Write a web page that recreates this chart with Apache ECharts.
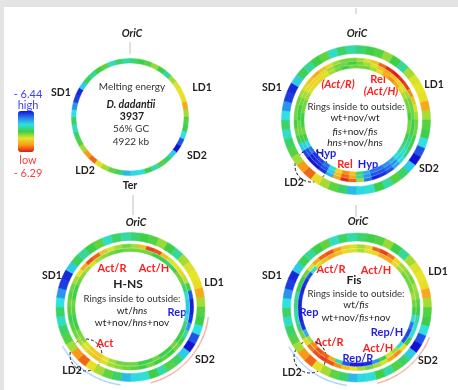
<!DOCTYPE html>
<html>
<head>
<meta charset="utf-8">
<script src="https://cdn.jsdelivr.net/npm/echarts@6.0.0/dist/echarts.min.js"></script>
<style>
  html, body { margin: 0; padding: 0; background: #fff; }
  #main { width: 458px; height: 390px; }
</style>
</head>
<body>
<div id="main"></div>
<script>
// 48 segments of 7.5 deg, clockwise from OriC
const segments = Array.from({ length: 48 }, (_, i) => i);

// melting energy (kcal/mol), same ring on every panel
const meltingEnergy = [
  -6.372, -6.365, -6.362, -6.352, -6.365, -6.378, -6.350, -6.342,
  -6.340, -6.338, -6.320, -6.350, -6.362, -6.365, -6.390, -6.425,
  -6.440, -6.395, -6.370, -6.362, -6.380, -6.365, -6.388, -6.392,
  -6.400, -6.370, -6.360, -6.350, -6.338, -6.305, -6.315, -6.350,
  -6.362, -6.370, -6.385, -6.370, -6.390, -6.410, -6.430, -6.435,
  -6.395, -6.368, -6.378, -6.365, -6.360, -6.385, -6.370, -6.380
];

// relative response rings (-1 = hyper / repressed, +1 = relaxed / activated)
const wtNovWt = [
  0.1, 0.1, 0.2, 0.4, 0.6, 0.7, 0.6, 0.4,
  0.2, 0.1, 0.1, 0.0, 0.1, 0.1, 0.0, -0.1,
  -0.2, -0.3, -0.5, -0.6, -0.7, -0.7, -0.5, -0.1,
  0.5, 0.7, 0.4, -0.3, -0.7, -0.85, -0.9, -0.7,
  -0.3, 0.0, 0.1, 0.0, 0.0, 0.1, 0.1, 0.2,
  0.3, 0.4, 0.4, 0.3, 0.2, 0.1, 0.0, 0.1
];
const fisNovFis = [
  0.1, 0.2, 0.3, 0.5, 0.6, 0.5, 0.4, 0.3,
  0.2, 0.1, 0.1, 0.1, 0.0, 0.0, -0.1, -0.2,
  -0.3, -0.4, -0.6, -0.7, -0.8, -0.8, -0.6, -0.2,
  0.6, 0.8, 0.5, -0.4, -0.8, -0.9, -0.95, -0.8,
  -0.4, 0.0, 0.1, 0.1, 0.0, 0.0, 0.1, 0.2,
  0.3, 0.4, 0.4, 0.3, 0.2, 0.1, 0.1, 0.0
];
const hnsNovHns = [
  0.2, 0.3, 0.5, 0.8, 0.95, 1.0, 0.95, 0.9,
  0.7, 0.5, 0.3, 0.2, 0.1, 0.1, 0.0, 0.0,
  -0.1, -0.3, -0.5, -0.8, -0.9, -0.95, -0.7, 0.2,
  0.8, 0.95, 0.6, -0.5, -0.9, -1.0, -1.0, -0.85,
  -0.4, 0.0, 0.1, 0.0, 0.1, 0.1, 0.1, 0.2,
  0.4, 0.5, 0.6, 0.5, 0.4, 0.2, 0.1, 0.1
];
const wtHns = [
  0.1, 0.1, 0.1, 0.0, 0.0, -0.1, 0.0, 0.1,
  0.1, -0.1, -0.3, -0.4, -0.4, -0.3, -0.1, 0.0,
  0.0, 0.1, 0.0, 0.0, 0.1, 0.0, 0.0, 0.1,
  0.1, 0.1, 0.2, 0.35, 0.45, 0.45, 0.3, 0.15,
  0.1, 0.0, 0.0, 0.05, 0.1, 0.0, 0.0, 0.1,
  0.15, 0.2, 0.3, 0.2, 0.15, 0.1, 0.05, 0.1
];
const wtNovHnsNov = [
  0.2, 0.5, 0.9, 0.85, 0.5, 0.3, 0.35, 0.4,
  0.25, 0.0, -0.8, -0.95, -0.95, -0.9, -0.6, -0.2,
  0.0, 0.1, 0.0, 0.05, 0.0, 0.1, 0.0, 0.05,
  0.1, 0.15, 0.2, 0.3, 0.5, 0.45, 0.3, 0.2,
  0.1, 0.05, 0.0, 0.05, 0.1, 0.05, 0.1, 0.2,
  0.35, 0.6, 0.85, 0.8, 0.5, 0.3, 0.2, 0.1
];
const wtFis = [
  0.2, 0.3, 0.4, 0.6, 0.6, 0.4, 0.2, 0.1,
  0.1, 0.1, 0.2, 0.1, 0.0, -0.3, -0.7, -0.85,
  -0.8, -0.3, 0.2, 0.3, 0.0, -0.6, -0.9, -0.95,
  -0.95, -0.8, -0.2, 0.6, 0.8, 0.85, 0.7, 0.2,
  -0.5, -0.9, -0.95, -0.95, -0.95, -0.9, -0.95, -0.9,
  -0.8, -0.3, 0.3, 0.5, 0.6, 0.5, 0.4, 0.3
];
const wtNovFisNov = [
  0.2, 0.4, 0.8, 0.9, 0.75, 0.4, 0.2, 0.15,
  0.1, 0.2, 0.15, 0.05, 0.0, -0.2, -0.3, -0.3,
  0.0, 0.4, 0.7, 0.6, 0.3, 0.2, 0.1, 0.2,
  0.35, 0.5, 0.7, 0.85, 0.9, 0.85, 0.75, 0.4,
  0.1, -0.1, -0.2, -0.2, -0.1, -0.2, 0.0, 0.0,
  0.1, 0.3, 0.6, 0.8, 0.85, 0.65, 0.45, 0.3
];
// faint outer arcs (null = nothing drawn)
const n = null;
const outerHns = [
  n, n, n, n, n, n, n, n, n, n, n, n, n, 0.9, 0.9, 0.9,
  0.9, 0.9, 0.9, 0.9, 0.9, 0.9, n, n, n, -0.6, -0.6, -0.6, -0.6, -0.6, -0.6, -0.6,
  n, n, n, n, n, n, n, n, n, n, n, n, n, n, n, n
];
const outerFis = [
  n, n, n, n, n, n, n, n, n, n, n, n, n, n, n, 0.9,
  0.9, 0.9, 0.9, 0.9, 0.9, 0.9, n, n, n, -0.6, -0.6, -0.6, -0.6, -0.6, -0.6, -0.6,
  n, n, n, n, n, n, n, n, n, n, n, n, n, n, n, n
];

const palette = ['#1212d6', '#2a7ef0', '#2ee0e0', '#3ecf48', '#e8e428', '#f89a18', '#e01818'];

const panels = [
  { center: [130, 117] },
  { center: [356, 120] },
  { center: [130.5, 307] },
  { center: [357, 307.5] }
];

function ringItem(r0, r1, opacity) {
  return function (params, api) {
    const v = api.value(1);
    if (v == null || isNaN(v)) return null;
    const seg = api.value(0);
    const inner = api.coord([r0, seg]);
    const outer = api.coord([r1, seg]);
    const size = api.size([0, 1], [r0, seg]);
    const color = api.visual('color');
    return {
      type: 'sector',
      shape: {
        cx: params.coordSys.cx,
        cy: params.coordSys.cy,
        r0: inner[2],
        r: outer[2],
        startAngle: -(inner[3] + size[1] / 2),
        endAngle: -(inner[3] - size[1] / 2)
      },
      style: { fill: color, stroke: color, lineWidth: 0.5, opacity: opacity }
    };
  };
}

const series = [];
const energyIdx = [];
const ratioIdx = [];
function addRing(polar, values, r0, r1, kind, opacity) {
  (kind === 'energy' ? energyIdx : ratioIdx).push(series.length);
  series.push({
    type: 'custom',
    coordinateSystem: 'polar',
    polarIndex: polar,
    encode: { angle: 0 },
    silent: true,
    renderItem: ringItem(r0, r1, opacity == null ? 1 : opacity),
    data: values.map((v, i) => [segments[i], v == null ? '-' : v])
  });
}

addRing(0, meltingEnergy, 54, 58.5, 'energy');

addRing(1, meltingEnergy, 66.5, 74.5, 'energy');
addRing(1, hnsNovHns, 59, 62, 'ratio');
addRing(1, fisNovFis, 55.5, 58.5, 'ratio');
addRing(1, wtNovWt, 52, 55, 'ratio');

addRing(2, meltingEnergy, 66.5, 74.5, 'energy');
addRing(2, wtNovHnsNov, 59.5, 63, 'ratio');
addRing(2, wtHns, 55.5, 58.8, 'ratio');
addRing(2, outerHns, 78, 79, 'ratio', 0.3);

addRing(3, meltingEnergy, 66.5, 74.5, 'energy');
addRing(3, wtNovFisNov, 59.5, 63, 'ratio');
addRing(3, wtFis, 55.5, 58.8, 'ratio');
addRing(3, outerFis, 78, 79, 'ratio', 0.3);

const FONT = 'Lato, "Open Sans", sans-serif';
const RED = '#ff1e1e';
const BLUE = '#1e1ee6';
function txt(x, y, text, o) {
  return {
    type: 'text', x: x, y: y, silent: true,
    style: Object.assign({
      text: text, fontFamily: FONT, fontSize: 10, fill: '#222',
      align: 'center', verticalAlign: 'middle'
    }, o || {})
  };
}
const B = { fontWeight: 'bold', fontSize: 10.5 };
const BI = { fontWeight: 'bold', fontStyle: 'italic', fontSize: 10.5 };
const redB = { fontWeight: 'bold', fill: RED, fontSize: 11 };
const blueB = { fontWeight: 'bold', fill: BLUE, fontSize: 11 };
const small = { fill: '#333', fontSize: 9.6 };
const rich = { i: { fontStyle: 'italic', fontFamily: FONT, fontSize: 10, fill: '#222' } };
const ri = { rich: rich };

function dashed(x, y) {
  return {
    type: 'circle', silent: true, shape: { cx: x, cy: y, r: 16 },
    style: { fill: 'none', stroke: '#111', lineWidth: 1, lineDash: [3, 2] }
  };
}
function tick(x, y0, y1) {
  return {
    type: 'line', silent: true, shape: { x1: x, y1: y0, x2: x, y2: y1 },
    style: { stroke: '#d4d4d4', lineWidth: 1.5 }
  };
}

const graphic = [
  { type: 'rect', silent: true, shape: { x: 0, y: 0, width: 458, height: 7 }, style: { fill: '#e4e4e4' } },
  { type: 'rect', silent: true, shape: { x: 0, y: 0, width: 4, height: 390 }, style: { fill: '#e4e4e4' } },
  tick(130, 42, 54), tick(356, 8, 14), tick(133, 195, 215), tick(356, 205, 217),

  // legend
  txt(28, 94, '- 6.44', { fill: '#3c3cff', fontSize: 11 }),
  txt(28, 105, 'high', { fill: '#3c3cff', fontSize: 11 }),
  txt(28, 160, 'low', { fill: '#ff3c3c', fontSize: 11 }),
  txt(28, 173, '- 6.29', { fill: '#ff3c3c', fontSize: 11 }),

  // panel 1
  txt(132, 34, 'OriC', BI),
  txt(130, 186, 'Ter', B),
  txt(61, 93, 'SD1', B), txt(202, 88, 'LD1', B),
  txt(197, 156, 'SD2', B), txt(85, 171, 'LD2', B),
  txt(132, 87, 'Melting energy', { fill: '#333' }),
  txt(131, 105, 'D. dadantii', BI),
  txt(132, 117, '3937', B),
  txt(131, 129, '56% GC', { fill: '#333' }),
  txt(131, 142, '4922 kb', { fill: '#333' }),

  // panel 2
  txt(357, 34, 'OriC', BI),
  txt(272, 88, 'SD1', B), txt(434, 85, 'LD1', B),
  txt(429, 169, 'SD2', B), txt(294, 183, 'LD2', B),
  txt(338, 84, '(Act/R)', Object.assign({}, redB, { fontStyle: 'italic' })),
  txt(378, 79, 'Rel', redB),
  txt(381, 91, '(Act/H)', Object.assign({}, redB, { fontStyle: 'italic' })),
  txt(356, 107, 'Rings inside to outside:', small),
  txt(355, 118, 'wt+nov/wt', { fill: '#222' }),
  txt(355, 132, '{i|fis}+nov/{i|fis}', ri),
  txt(355, 143, '{i|hns}+nov/{i|hns}', ri),
  txt(326, 153, 'Hyp', blueB),
  txt(345, 164, 'Rel', redB),
  txt(368, 164, 'Hyp', blueB),
  dashed(311, 166),

  // panel 3
  txt(136, 223, 'OriC', BI),
  txt(52, 276, 'SD1', B), txt(214, 283, 'LD1', B),
  txt(205, 360, 'SD2', B), txt(72, 371, 'LD2', B),
  txt(112, 268, 'Act/R', redB), txt(154, 268, 'Act/H', redB),
  txt(128, 284, 'H-NS', { fontWeight: 'bold', fontSize: 12 }),
  txt(132, 299, 'Rings inside to outside:', small),
  txt(132, 311, 'wt/{i|hns}', ri),
  txt(132, 323, 'wt+nov/{i|hns}+nov', ri),
  txt(177, 312, 'Rep', blueB),
  txt(105, 343, 'Act', redB),
  dashed(86, 355),

  // panel 4
  txt(358, 222, 'OriC', BI),
  txt(272, 276, 'SD1', B), txt(438, 272, 'LD1', B),
  txt(428, 361, 'SD2', B), txt(292, 373, 'LD2', B),
  txt(331, 269, 'Act/R', redB), txt(376, 270, 'Act/H', redB),
  txt(354, 280, 'Fis', { fontWeight: 'bold', fontSize: 12 }),
  txt(356, 294, 'Rings inside to outside:', small),
  txt(356, 305, 'wt/{i|fis}', ri),
  txt(356, 318, 'wt+nov/{i|fis}+nov', ri),
  txt(309, 312, 'Rep', blueB),
  txt(387, 332, 'Rep/H', blueB),
  txt(329, 342, 'Act/R', redB),
  txt(378, 348, 'Act/H', redB),
  txt(358, 358, 'Rep/R', blueB),
  dashed(310, 357)
];

const chart = echarts.init(document.getElementById('main'));
chart.setOption({
  animation: false,
  backgroundColor: '#fff',
  polar: panels.map(p => ({ center: p.center, radius: 85 })),
  radiusAxis: panels.map((p, i) => ({
    polarIndex: i, type: 'value', min: 0, max: 85, show: false
  })),
  angleAxis: panels.map((p, i) => ({
    polarIndex: i, type: 'category', data: segments, startAngle: 90,
    clockwise: true, boundaryGap: true, show: false
  })),
  visualMap: [
    {
      type: 'continuous', min: -6.44, max: -6.29, dimension: 1,
      seriesIndex: energyIdx, inverse: true, calculable: false,
      left: 18, top: 111, padding: 0, itemWidth: 16, itemHeight: 41,
      inRange: { color: palette }, text: null, showLabel: false
    },
    {
      type: 'continuous', show: false, min: -1, max: 1, dimension: 1,
      seriesIndex: ratioIdx, inRange: { color: palette }
    }
  ],
  graphic: graphic,
  series: series
});
</script>
</body>
</html>
